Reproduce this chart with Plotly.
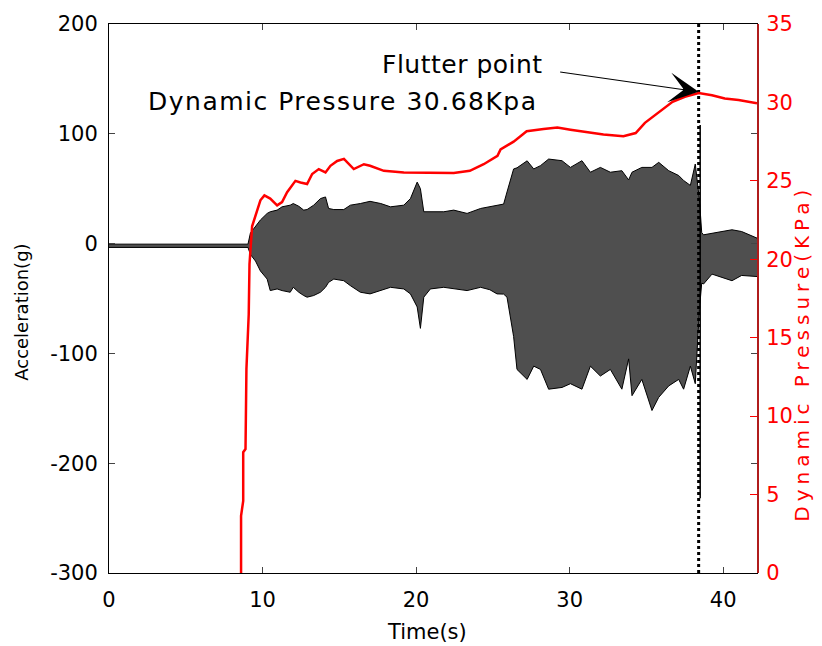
import plotly.graph_objects as go

# ---------------- data ----------------
# acceleration envelope (g): time (s), upper and lower extent of the dense vibration trace
acc_time = [0.0, 9.05, 9.21, 9.54, 9.86, 10.3, 10.5, 10.95, 11.27, 11.8,
            12.0, 12.36, 12.68, 12.9, 13.33, 13.77, 14.1, 14.3, 14.64, 15.29,
            15.72, 16.37, 17.0, 17.7, 18.33, 19.2, 19.63, 20.07, 20.28, 20.5,
            20.93, 21.8, 22.45, 23.32, 24.2, 24.8, 25.27, 25.7, 25.92, 26.35,
            26.57, 27.23, 27.66, 28.1, 28.63, 29.5, 30.05, 30.8, 31.35, 32.0,
            32.65, 33.4, 33.84, 34.06, 34.7, 35.36, 35.8, 36.45, 37.1, 37.42,
            37.86, 38.18, 38.45, 38.6, 38.72, 39.27, 39.92, 40.57, 41.2, 42.2]
acc_upper = [-0.5, -0.5, 9.6, 15.5, 21.5, 27.5, 29.0, 30.5, 33.5, 35.0,
             36.5, 34.0, 30.5, 31.0, 35.0, 41.0, 42.5, 32.0, 31.0, 31.0,
             35.0, 36.5, 38.5, 36.5, 33.5, 35.0, 41.0, 56.0, 50.0, 29.0,
             29.0, 29.0, 30.5, 27.5, 32.0, 33.5, 35.0, 36.0, 47.0, 68.0,
             69.0, 75.4, 68.0, 71.0, 77.0, 75.5, 69.4, 75.5, 65.0, 69.4,
             65.0, 66.4, 58.0, 65.0, 69.4, 69.4, 74.0, 66.4, 62.0, 57.5,
             53.0, 72.5, 40.0, 10.0, 8.0, 9.6, 11.0, 12.6, 11.0, 5.0]
acc_lower = [-3.5, -3.5, -9.9, -15.9, -24.9, -32.3, -42.8, -41.3, -42.8, -44.3,
             -39.8, -44.3, -47.3, -48.8, -47.3, -44.3, -39.8, -35.3, -32.3, -33.8,
             -38.3, -44.3, -45.8, -42.8, -39.8, -41.3, -45.8, -57.7, -77.2, -48.8,
             -41.3, -39.8, -41.3, -42.8, -39.8, -42.0, -45.8, -46.0, -48.8, -84.7,
             -114.6, -123.7, -111.6, -114.6, -132.6, -131.0, -127.6, -132.6, -111.6, -120.6,
             -114.6, -132.6, -105.0, -138.5, -123.7, -152.0, -140.0, -129.6, -123.7, -132.6,
             -111.6, -127.6, -60.0, -36.0, -36.8, -27.8, -30.8, -33.8, -29.0, -30.0]

# single large spike at the flutter instant
spike_time = [38.5, 38.5]
spike_acc = [108.0, -232.0]

# dynamic pressure (kPa)
pres_time = [8.6, 8.6, 8.74, 8.74, 8.89, 8.95, 9.1, 9.15, 9.32, 9.54,
             9.86, 10.12, 10.5, 10.95, 11.27, 11.6, 12.14, 12.47, 12.9, 13.23,
             13.66, 14.1, 14.42, 14.86, 15.3, 15.94, 16.6, 17.0, 17.9, 19.2,
             20.9, 22.45, 23.5, 24.4, 25.3, 25.5, 26.35, 27.2, 28.3, 29.2,
             30.05, 31.1, 32.2, 33.5, 34.3, 34.9, 35.8, 36.7, 37.5, 38.4,
             39.27, 40.1, 41.0, 42.2]
pres_val = [0.0, 3.65, 4.6, 7.7, 7.9, 13.0, 16.5, 19.7, 22.1, 22.8,
            23.76, 24.07, 23.87, 23.44, 23.65, 24.28, 25.0, 24.9, 24.8, 25.44,
            25.75, 25.54, 25.96, 26.27, 26.4, 25.75, 26.06, 25.96, 25.64, 25.54,
            25.54, 25.5, 25.64, 26.06, 26.6, 27.0, 27.5, 28.16, 28.3, 28.4,
            28.26, 28.1, 27.95, 27.84, 28.05, 28.7, 29.4, 30.04, 30.36, 30.6,
            30.46, 30.25, 30.15, 29.94]

flutter_time = 38.4
flutter_pressure = 30.68

x_ticks = [0, 10, 20, 30, 40]
acc_ticks = [-300, -200, -100, 0, 100, 200]
pres_ticks = [0, 5, 10, 15, 20, 25, 30, 35]

FONT = "DejaVu Sans"

fig = go.Figure()

# acceleration band (dense oscillation drawn as its envelope)
fig.add_trace(go.Scatter(x=acc_time, y=acc_lower, mode="lines",
                         line=dict(color="black", width=1), showlegend=False,
                         hoverinfo="skip"))
fig.add_trace(go.Scatter(x=acc_time, y=acc_upper, mode="lines",
                         line=dict(color="black", width=1), fill="tonexty",
                         fillcolor="rgba(20,20,20,0.75)", showlegend=False,
                         hoverinfo="skip"))
fig.add_trace(go.Scatter(x=spike_time, y=spike_acc, mode="lines",
                         line=dict(color="black", width=1.5), showlegend=False))

# dynamic pressure
fig.add_trace(go.Scatter(x=pres_time, y=pres_val, mode="lines", yaxis="y2",
                         line=dict(color="#ff0000", width=2.5), showlegend=False))

# flutter marker (dotted vertical)
fig.add_trace(go.Scatter(x=[flutter_time, flutter_time], y=[acc_ticks[0], acc_ticks[-1]],
                         mode="lines", line=dict(color="black", width=3, dash="dot"),
                         showlegend=False))

fig.update_layout(
    width=822, height=646,
    margin=dict(l=109, r=65, t=16, b=73),
    paper_bgcolor="white", plot_bgcolor="white",
    font=dict(family=FONT, size=21, color="black"),
    xaxis=dict(range=[0, 42.2], tickvals=x_ticks, ticks="inside", ticklen=6,
               showline=True, linecolor="black", linewidth=1, mirror="ticks",
               showgrid=False, zeroline=False, ticklabelstandoff=8,
               tickfont=dict(family=FONT, size=21, color="black")),
    yaxis=dict(range=[-300, 200], tickvals=acc_ticks,
               ticktext=[str(v) for v in acc_ticks], ticks="inside", ticklen=6,
               showline=True, linecolor="black", linewidth=1, mirror="ticks",
               showgrid=False, zeroline=False, ticklabelstandoff=6,
               tickfont=dict(family=FONT, size=21, color="black")),
    yaxis2=dict(range=[0, 35], tickvals=pres_ticks, overlaying="y", side="right",
                ticks="inside", ticklen=7, tickcolor="#ff0000",
                showline=True, linecolor="#b01c1c", linewidth=2,
                showgrid=False, zeroline=False, ticklabelstandoff=3,
                tickfont=dict(family=FONT, size=21, color="#ff0000")),
    annotations=[
        dict(text="Time(s)", xref="paper", yref="paper", x=0.49, y=-0.107,
             xanchor="center", yanchor="middle", showarrow=False,
             font=dict(family=FONT, size=21, color="black")),
        dict(text="Acceleration(g)", xref="paper", yref="paper", x=-0.135, y=0.475,
             textangle=-90, xanchor="center", yanchor="middle", showarrow=False,
             font=dict(family=FONT, size=18, color="black")),
        dict(text='<span style="letter-spacing:5px">Dynamic Pressure(KPa)</span>',
             xref="paper", yref="paper", x=1.07, y=0.4,
             textangle=-90, xanchor="center", yanchor="middle", showarrow=False,
             font=dict(family=FONT, size=20, color="#ff0000")),
        dict(text='<span style="letter-spacing:0.5px">Flutter point</span>',
             xref="x", yref="y", x=28.4, y=163,
             xanchor="right", yanchor="middle", showarrow=False,
             font=dict(family=FONT, size=25, color="black")),
        dict(text='<span style="letter-spacing:1.5px">Dynamic Pressure 30.68Kpa</span>',
             xref="x", yref="y", x=28.1, y=129,
             xanchor="right", yanchor="middle", showarrow=False,
             font=dict(family=FONT, size=25, color="black")),
        dict(text="", x=flutter_time, y=flutter_pressure, xref="x", yref="y2",
             showarrow=True, arrowhead=3, arrowsize=4.5, arrowwidth=1.1,
             arrowcolor="black", axref="pixel", ayref="pixel", ax=-140, ay=-20),
    ],
)

fig.write_html("out.html")
